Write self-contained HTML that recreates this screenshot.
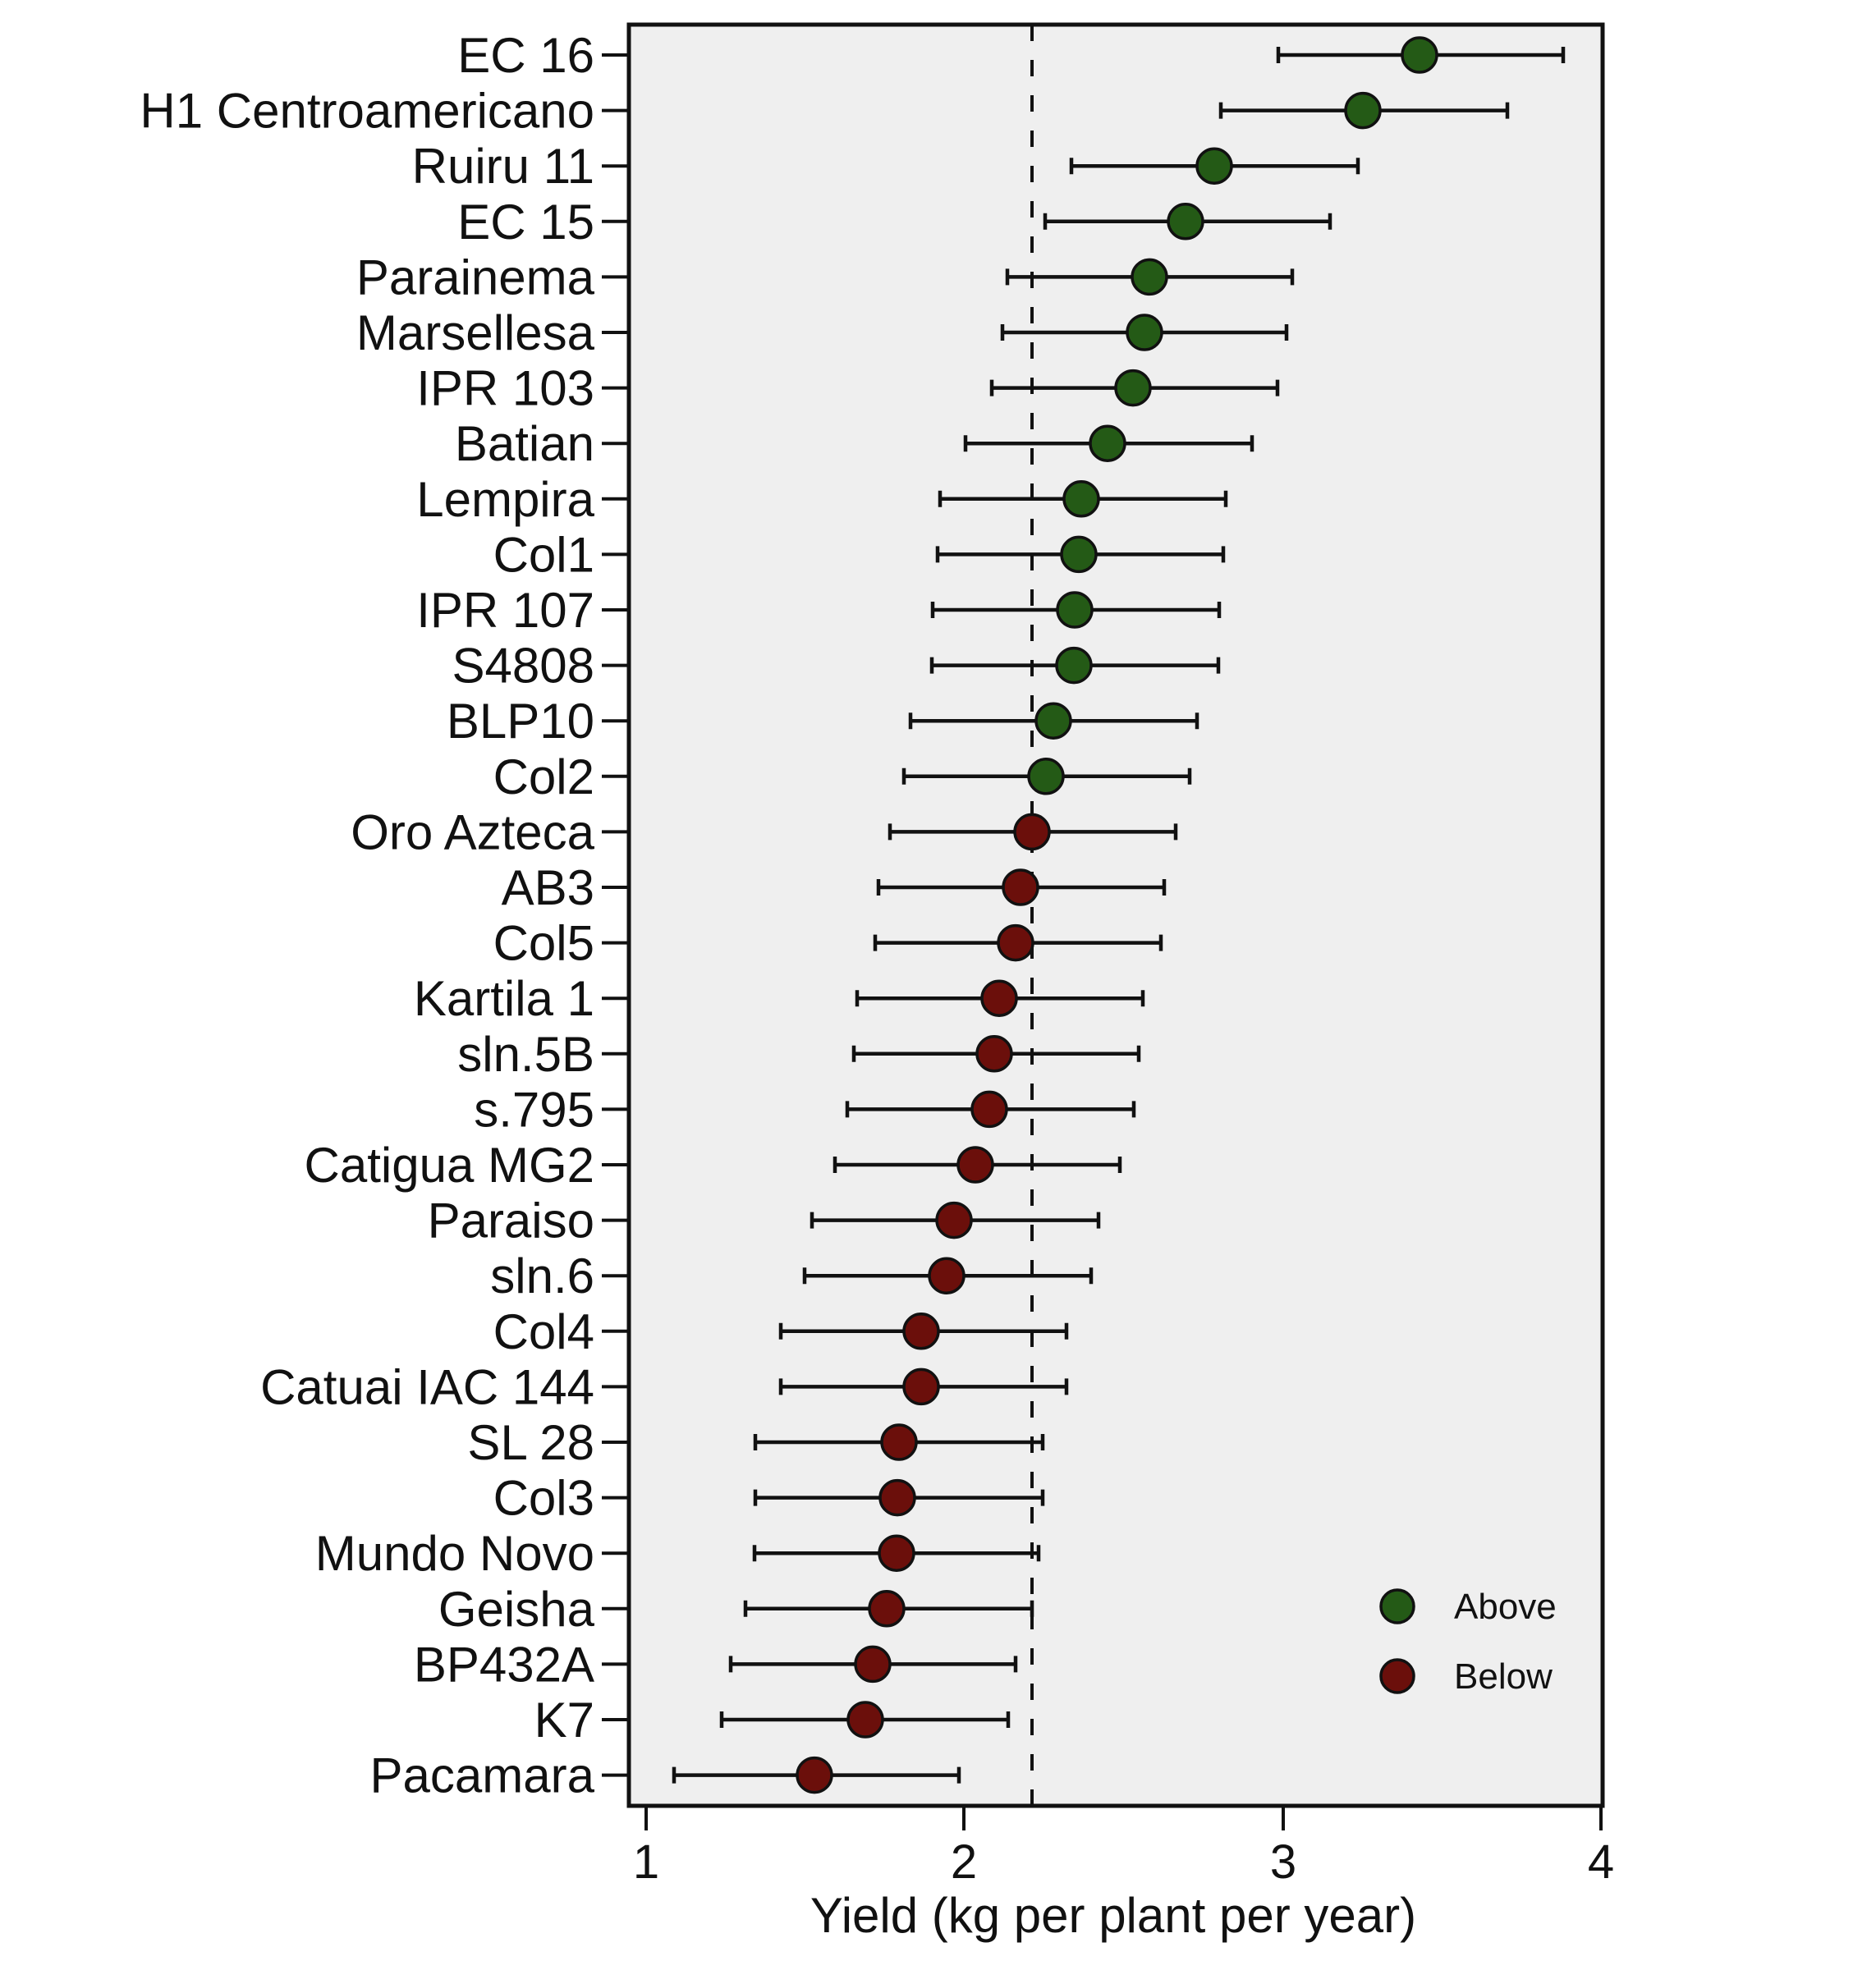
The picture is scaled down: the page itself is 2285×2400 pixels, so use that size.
<!DOCTYPE html>
<html><head><meta charset="utf-8"><style>
html,body{margin:0;padding:0;background:#fff;}
svg{display:block;}
text{font-family:"Liberation Sans",Arial,sans-serif;fill:#111;}
</style></head><body>
<svg width="2285" height="2400" viewBox="0 0 2285 2400" xmlns="http://www.w3.org/2000/svg">
<rect x="0" y="0" width="2285" height="2400" fill="#fff"/>
<rect x="766" y="30" width="1186" height="2170" fill="#efefef"/>
<line x1="1257" y1="30" x2="1257" y2="2200" stroke="#111" stroke-width="4" stroke-dasharray="20 23" stroke-dashoffset="0"/>
<g stroke="#111" stroke-width="4.5">
<path d="M1557 67H1904M1557 57V77M1904 57V77"/>
<path d="M1487 134.6H1836M1487 124.6V144.6M1836 124.6V144.6"/>
<path d="M1305 202.2H1654M1305 192.2V212.2M1654 192.2V212.2"/>
<path d="M1273 269.8H1620M1273 259.8V279.8M1620 259.8V279.8"/>
<path d="M1227 337.4H1574M1227 327.4V347.4M1574 327.4V347.4"/>
<path d="M1221 405H1567M1221 395V415M1567 395V415"/>
<path d="M1208 472.6H1556M1208 462.6V482.6M1556 462.6V482.6"/>
<path d="M1176 540.2H1525M1176 530.2V550.2M1525 530.2V550.2"/>
<path d="M1145 607.8H1493M1145 597.8V617.8M1493 597.8V617.8"/>
<path d="M1142 675.4H1490M1142 665.4V685.4M1490 665.4V685.4"/>
<path d="M1136 743H1485M1136 733V753M1485 733V753"/>
<path d="M1135 810.6H1484M1135 800.6V820.6M1484 800.6V820.6"/>
<path d="M1109 878.2H1458M1109 868.2V888.2M1458 868.2V888.2"/>
<path d="M1101 945.8H1449M1101 935.8V955.8M1449 935.8V955.8"/>
<path d="M1084 1013.4H1432M1084 1003.4V1023.4M1432 1003.4V1023.4"/>
<path d="M1070 1081H1418M1070 1071V1091M1418 1071V1091"/>
<path d="M1066 1148.6H1414M1066 1138.6V1158.6M1414 1138.6V1158.6"/>
<path d="M1044 1216.2H1392M1044 1206.2V1226.2M1392 1206.2V1226.2"/>
<path d="M1040 1283.8H1387M1040 1273.8V1293.8M1387 1273.8V1293.8"/>
<path d="M1032 1351.4H1381M1032 1341.4V1361.4M1381 1341.4V1361.4"/>
<path d="M1017 1419H1364M1017 1409V1429M1364 1409V1429"/>
<path d="M989 1486.6H1338M989 1476.6V1496.6M1338 1476.6V1496.6"/>
<path d="M980 1554.2H1329M980 1544.2V1564.2M1329 1544.2V1564.2"/>
<path d="M951 1621.8H1299M951 1611.8V1631.8M1299 1611.8V1631.8"/>
<path d="M951 1689.4H1299M951 1679.4V1699.4M1299 1679.4V1699.4"/>
<path d="M920 1757H1270M920 1747V1767M1270 1747V1767"/>
<path d="M920 1824.6H1270M920 1814.6V1834.6M1270 1814.6V1834.6"/>
<path d="M919 1892.2H1265M919 1882.2V1902.2M1265 1882.2V1902.2"/>
<path d="M908 1959.8H1257M908 1949.8V1969.8M1257 1949.8V1969.8"/>
<path d="M890 2027.4H1237M890 2017.4V2037.4M1237 2017.4V2037.4"/>
<path d="M879 2095H1228M879 2085V2105M1228 2085V2105"/>
<path d="M821 2162.6H1168M821 2152.6V2172.6M1168 2152.6V2172.6"/>
</g>
<g stroke="#111" stroke-width="3.5" fill="#245a16">
<circle cx="1729" cy="67" r="21"/>
<circle cx="1660" cy="134.6" r="21"/>
<circle cx="1479" cy="202.2" r="21"/>
<circle cx="1444" cy="269.8" r="21"/>
<circle cx="1400" cy="337.4" r="21"/>
<circle cx="1394" cy="405" r="21"/>
<circle cx="1380" cy="472.6" r="21"/>
<circle cx="1349" cy="540.2" r="21"/>
<circle cx="1317" cy="607.8" r="21"/>
<circle cx="1314" cy="675.4" r="21"/>
<circle cx="1309" cy="743" r="21"/>
<circle cx="1308" cy="810.6" r="21"/>
<circle cx="1283" cy="878.2" r="21"/>
<circle cx="1274" cy="945.8" r="21"/>
</g>
<g stroke="#111" stroke-width="3.5" fill="#6b0f0b">
<circle cx="1257" cy="1013.4" r="21"/>
<circle cx="1243" cy="1081" r="21"/>
<circle cx="1237" cy="1148.6" r="21"/>
<circle cx="1217" cy="1216.2" r="21"/>
<circle cx="1211" cy="1283.8" r="21"/>
<circle cx="1205" cy="1351.4" r="21"/>
<circle cx="1188" cy="1419" r="21"/>
<circle cx="1162" cy="1486.6" r="21"/>
<circle cx="1153" cy="1554.2" r="21"/>
<circle cx="1122" cy="1621.8" r="21"/>
<circle cx="1122" cy="1689.4" r="21"/>
<circle cx="1095" cy="1757" r="21"/>
<circle cx="1093" cy="1824.6" r="21"/>
<circle cx="1092" cy="1892.2" r="21"/>
<circle cx="1080" cy="1959.8" r="21"/>
<circle cx="1063" cy="2027.4" r="21"/>
<circle cx="1054" cy="2095" r="21"/>
<circle cx="992" cy="2162.6" r="21"/>
</g>
<rect x="766" y="30" width="1186" height="2170" fill="none" stroke="#111" stroke-width="5"/>
<g stroke="#111" stroke-width="4">
<path d="M733 67H766M733 134.6H766M733 202.2H766M733 269.8H766M733 337.4H766M733 405H766M733 472.6H766M733 540.2H766M733 607.8H766M733 675.4H766M733 743H766M733 810.6H766M733 878.2H766M733 945.8H766M733 1013.4H766M733 1081H766M733 1148.6H766M733 1216.2H766M733 1283.8H766M733 1351.4H766M733 1419H766M733 1486.6H766M733 1554.2H766M733 1621.8H766M733 1689.4H766M733 1757H766M733 1824.6H766M733 1892.2H766M733 1959.8H766M733 2027.4H766M733 2095H766M733 2162.6H766"/>
<path d="M787 2200V2230M1174 2200V2230M1563 2200V2230M1950 2200V2230"/>
</g>
<g font-size="60" text-anchor="end">
<text x="724" y="88">EC 16</text>
<text x="724" y="155.6">H1 Centroamericano</text>
<text x="724" y="223.2">Ruiru 11</text>
<text x="724" y="290.8">EC 15</text>
<text x="724" y="358.4">Parainema</text>
<text x="724" y="426">Marsellesa</text>
<text x="724" y="493.6">IPR 103</text>
<text x="724" y="561.2">Batian</text>
<text x="724" y="628.8">Lempira</text>
<text x="724" y="696.4">Col1</text>
<text x="724" y="764">IPR 107</text>
<text x="724" y="831.6">S4808</text>
<text x="724" y="899.2">BLP10</text>
<text x="724" y="966.8">Col2</text>
<text x="724" y="1034.4">Oro Azteca</text>
<text x="724" y="1102">AB3</text>
<text x="724" y="1169.6">Col5</text>
<text x="724" y="1237.2">Kartila 1</text>
<text x="724" y="1304.8">sln.5B</text>
<text x="724" y="1372.4">s.795</text>
<text x="724" y="1440">Catigua MG2</text>
<text x="724" y="1507.6">Paraiso</text>
<text x="724" y="1575.2">sln.6</text>
<text x="724" y="1642.8">Col4</text>
<text x="724" y="1710.4">Catuai IAC 144</text>
<text x="724" y="1778">SL 28</text>
<text x="724" y="1845.6">Col3</text>
<text x="724" y="1913.2">Mundo Novo</text>
<text x="724" y="1980.8">Geisha</text>
<text x="724" y="2048.4">BP432A</text>
<text x="724" y="2116">K7</text>
<text x="724" y="2183.6">Pacamara</text>
</g>
<g font-size="58" text-anchor="middle">
<text x="787" y="2288">1</text>
<text x="1174" y="2288">2</text>
<text x="1563" y="2288">3</text>
<text x="1950" y="2288">4</text>
<text x="1356" y="2354" font-size="60">Yield (kg per plant per year)</text>
</g>
<circle cx="1702" cy="1957" r="20" fill="#245a16" stroke="#111" stroke-width="3.5"/>
<circle cx="1702" cy="2042" r="20" fill="#6b0f0b" stroke="#111" stroke-width="3.5"/>
<text x="1771" y="1972" font-size="44">Above</text>
<text x="1771" y="2057" font-size="44">Below</text>
</svg>
</body></html>
